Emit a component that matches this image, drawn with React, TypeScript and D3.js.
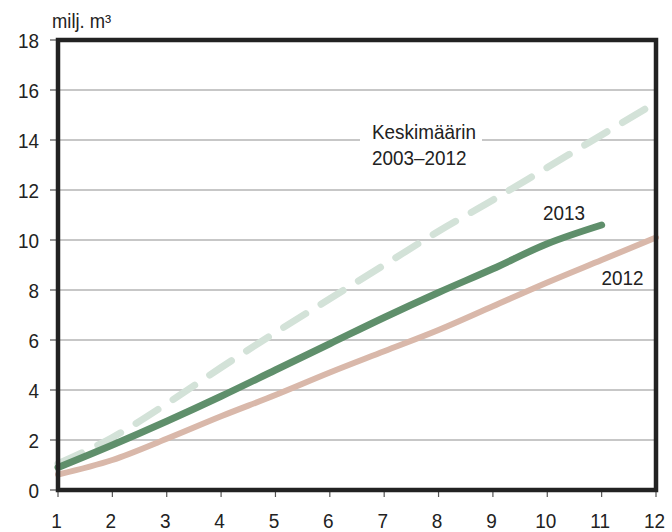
import React from "react";
import * as d3 from "d3";

const months = [1, 2, 3, 4, 5, 6, 7, 8, 9, 10, 11, 12];
const avgValues = [1.05, 2.1, 3.45, 4.9, 6.3, 7.65, 9.0, 10.35, 11.6, 12.9, 14.2, 15.5];
const values2012 = [0.62, 1.2, 2.05, 2.95, 3.8, 4.7, 5.55, 6.4, 7.35, 8.3, 9.2, 10.1];
const values2013 = [0.9, 1.8, 2.75, 3.75, 4.8, 5.85, 6.9, 7.9, 8.85, 9.85, 10.6];
const yTicks = [0, 2, 4, 6, 8, 10, 12, 14, 16, 18];
const unitLabel = "milj. m³";
const avgLabel = ["Keskimäärin", "2003–2012"];

const W = 672;
const H = 532;
const L = 58, R = 656, T = 40, B = 490;
const FONT = "'Liberation Sans', Arial, sans-serif";

export default function App() {
  const x = d3.scaleLinear().domain([1, 12]).range([L, R]);
  const y = d3.scaleLinear().domain([0, 18]).range([B, T]);
  const line = d3
    .line<number>()
    .x((_, i) => x(months[i]))
    .y((d) => y(d))
    .curve(d3.curveMonotoneX);

  return (
    <svg width={W} height={H} style={{ position: "absolute", left: 0, top: 0, background: "#fff" }}>
      <rect x={0} y={0} width={W} height={H} fill="#fff" />
      {/* gridlines */}
      {yTicks.filter((t) => t > 0 && t < 18).map((t) => (
        <line key={"g" + t} x1={L} x2={R} y1={y(t)} y2={y(t)} stroke="#b5b5b5" strokeWidth={1.3} />
      ))}
      {/* y ticks */}
      {yTicks.map((t) => (
        <line key={"yt" + t} x1={L - 8} x2={L} y1={y(t)} y2={y(t)} stroke="#555" strokeWidth={1.2} />
      ))}
      {/* x ticks */}
      {months.map((m) => (
        <line key={"xt" + m} x1={x(m)} x2={x(m)} y1={B} y2={B + 7} stroke="#555" strokeWidth={1.2} />
      ))}
      {/* label background */}
      <rect x={360} y={118} width={122} height={52} fill="#fff" />
      {/* lines */}
      <path
        d={line(avgValues) || ""}
        fill="none"
        stroke="#d3e2d8"
        strokeWidth={7}
        strokeDasharray="26 18"
        strokeLinecap="round"
        strokeLinejoin="round"
      />
      <path
        d={line(values2012) || ""}
        fill="none"
        stroke="#d9b8aa"
        strokeWidth={6}
        strokeLinecap="round"
        strokeLinejoin="round"
      />
      <path
        d={line(values2013) || ""}
        fill="none"
        stroke="#5f8f6b"
        strokeWidth={7}
        strokeLinecap="round"
        strokeLinejoin="round"
      />
      {/* frame */}
      <rect x={L} y={T} width={R - L} height={B - T} fill="none" stroke="#222" strokeWidth={4.5} />
      {/* y labels */}
      {yTicks.map((t) => (
        <text
          key={"yl" + t}
          transform={`translate(39,${y(t) + 7.5}) scale(0.9,1)`}
          textAnchor="end"
          fontFamily={FONT}
          fontSize={21}
          fill="#222"
        >
          {t}
        </text>
      ))}
      {/* x labels */}
      {months.map((m) => (
        <text
          key={"xl" + m}
          transform={`translate(${x(m) - 1.5},${527.5}) scale(0.95,1.05)`}
          textAnchor="middle"
          fontFamily={FONT}
          fontSize={20}
          fill="#222"
        >
          {m}
        </text>
      ))}
      {/* unit */}
      <text transform="translate(52,28) scale(0.92,1)" fontFamily={FONT} fontSize={20} fill="#222">
        {unitLabel}
      </text>
      {/* series labels */}
      <text transform="translate(372,138.5) scale(0.9,1)" fontFamily={FONT} fontSize={21} fill="#222">
        {avgLabel[0]}
      </text>
      <text transform="translate(372,165) scale(0.9,1)" fontFamily={FONT} fontSize={21} fill="#222">
        {avgLabel[1]}
      </text>
      <text transform="translate(543,220) scale(0.9,1)" fontFamily={FONT} fontSize={21} fill="#222">
        2013
      </text>
      <text transform="translate(601.5,285) scale(0.9,1)" fontFamily={FONT} fontSize={21} fill="#222">
        2012
      </text>
    </svg>
  );
}
